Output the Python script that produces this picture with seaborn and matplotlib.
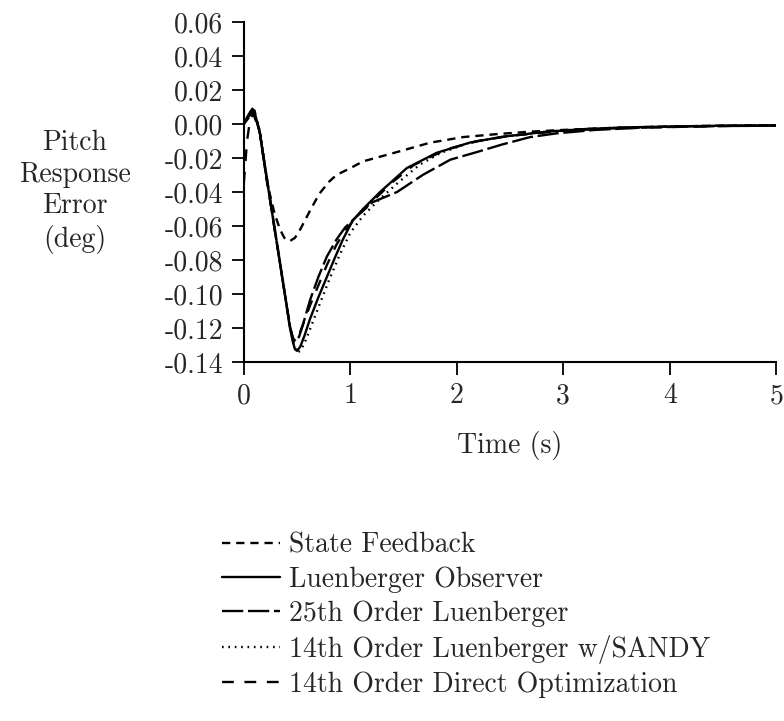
import matplotlib
matplotlib.use("Agg")
import matplotlib.pyplot as plt
import seaborn as sns
import pandas as pd

# ---- data ----
t_sf = [0, 0.05, 0.1, 0.15, 0.22, 0.29, 0.34, 0.38, 0.43, 0.48, 0.53, 0.58, 0.63, 0.71, 0.8, 0.87, 1.0, 1.12, 1.44, 1.75, 2.06, 2.37, 2.69, 3.0, 3.5, 4.0, 4.5, 5.0]
v_sf = [0, 0.004, 0.008, -0.005, -0.035, -0.053, -0.062, -0.067, -0.069, -0.067, -0.062, -0.056, -0.050, -0.041, -0.034, -0.030, -0.026, -0.022, -0.0165, -0.011, -0.0077, -0.006, -0.0045, -0.0035, -0.0022, -0.0015, -0.001, -0.0008]

t_lo = [0, 0.04, 0.08, 0.1, 0.15, 0.2, 0.25, 0.3, 0.35, 0.4, 0.43, 0.46, 0.48, 0.5, 0.53, 0.57, 0.62, 0.7, 0.78, 0.86, 0.93, 1.02, 1.12, 1.28, 1.53, 1.81, 2.12, 2.43, 2.85, 3.2, 3.6, 4.0, 4.5, 5.0]
v_lo = [0, 0.004, 0.007, 0.006, -0.005, -0.026, -0.046, -0.066, -0.086, -0.106, -0.119, -0.128, -0.1325, -0.1335, -0.131, -0.1245, -0.115, -0.102, -0.090, -0.078, -0.068, -0.057, -0.050, -0.040, -0.026, -0.017, -0.011, -0.0075, -0.0045, -0.003, -0.002, -0.0015, -0.001, -0.0008]

t_25 = [0, 0.04, 0.08, 0.1, 0.15, 0.2, 0.25, 0.3, 0.35, 0.4, 0.43, 0.46, 0.49, 0.52, 0.56, 0.62, 0.7, 0.78, 0.87, 0.95, 1.05, 1.21, 1.44, 1.68, 1.94, 2.19, 2.43, 2.69, 2.94, 3.3, 3.8, 4.5, 5.0]
v_25 = [0, 0.005, 0.009, 0.007, -0.005, -0.026, -0.046, -0.066, -0.086, -0.106, -0.118, -0.126, -0.128, -0.125, -0.117, -0.104, -0.090, -0.078, -0.068, -0.061, -0.055, -0.046, -0.040, -0.030, -0.021, -0.0165, -0.012, -0.0077, -0.0055, -0.0035, -0.002, -0.0012, -0.001]

t_sa = [0, 0.04, 0.08, 0.1, 0.15, 0.2, 0.25, 0.3, 0.35, 0.4, 0.44, 0.47, 0.5, 0.53, 0.57, 0.62, 0.7, 0.8, 0.9, 1.0, 1.12, 1.28, 1.44, 1.65, 1.85, 2.12, 2.43, 2.85, 3.2, 3.6, 4.0, 4.5, 5.0]
v_sa = [0, 0.005, 0.009, 0.007, -0.004, -0.025, -0.045, -0.065, -0.085, -0.105, -0.121, -0.130, -0.1345, -0.1335, -0.129, -0.121, -0.108, -0.092, -0.077, -0.064, -0.054, -0.044, -0.035, -0.024, -0.017, -0.011, -0.0075, -0.0045, -0.003, -0.002, -0.0015, -0.001, -0.0008]

t_do = [0, 0.03, 0.06, 0.09, 0.15, 0.2, 0.25, 0.3, 0.35, 0.4, 0.44, 0.47, 0.5, 0.55, 0.62, 0.7, 0.78, 0.87, 0.95, 1.05, 1.2, 1.4, 1.6, 1.9, 2.2, 2.5, 3.0, 3.5, 4.0, 4.5, 5.0]
v_do = [-0.035, -0.01, 0.003, 0.006, -0.005, -0.026, -0.046, -0.066, -0.086, -0.106, -0.121, -0.128, -0.127, -0.119, -0.107, -0.095, -0.083, -0.071, -0.063, -0.055, -0.046, -0.034, -0.024, -0.015, -0.010, -0.007, -0.004, -0.0025, -0.0018, -0.0012, -0.001]

labels = ["State Feedback", "Luenberger Observer", "25th Order Luenberger",
          "14th Order Luenberger w/SANDY", "14th Order Direct Optimization"]
x_ticks = [0, 1, 2, 3, 4, 5]
x_ticklabels = ["0", "1", "2", "3", "4", "5"]
y_ticks = [0.06, 0.04, 0.02, 0.00, -0.02, -0.04, -0.06, -0.08, -0.10, -0.12, -0.14]
y_ticklabels = ["0.06", "0.04", "0.02", "0.00", "-0.02", "-0.04", "-0.06", "-0.08", "-0.10", "-0.12", "-0.14"]

# ---- style ----
sns.set_theme(style="ticks")
plt.rcParams["font.family"] = ["cmr10", "DejaVu Serif"]
plt.rcParams["axes.unicode_minus"] = False
plt.rcParams["mathtext.fontset"] = "cm"
plt.rcParams["axes.formatter.use_mathtext"] = True

FS = 20
fig = plt.figure(figsize=(7.84, 7.21), dpi=100)
fig.patch.set_facecolor("white")
ax = fig.add_axes([0.311, 0.498, 0.679, 0.4715])
ax.set_facecolor("white")

series = [
    (t_sf, v_sf, (0, (3.5, 2.5))),
    (t_lo, v_lo, "-"),
    (t_25, v_25, (0, (9, 2))),
    (t_sa, v_sa, (0, (0.7, 2.0))),
    (t_do, v_do, (0, (5, 4.5))),
]
for (t, v, ls), lab in zip(series, labels):
    df = pd.DataFrame({"t": t, "v": v})
    sns.lineplot(data=df, x="t", y="v", ax=ax, color="black", linewidth=1.7,
                 linestyle=ls, label=lab, estimator=None, sort=True)

ax.set_xlim(0, 5)
ax.set_ylim(-0.14, 0.06)
ax.set_xticks(x_ticks)
ax.set_xticklabels(x_ticklabels, fontsize=FS)
ax.set_yticks(y_ticks)
ax.set_yticklabels(y_ticklabels, fontsize=FS)
ax.tick_params(direction="out", length=9, width=1.3, color="black", pad=6)

for s in ["top", "right"]:
    ax.spines[s].set_visible(False)
for s in ["left", "bottom"]:
    ax.spines[s].set_linewidth(1.5)
    ax.spines[s].set_color("black")

ax.set_xlabel("Time (s)", fontsize=FS)
ax.xaxis.set_label_coords(0.5, -0.247)
ax.xaxis.label.set_va("center")
ax.set_ylabel("Pitch\nResponse\nError\n(deg)", fontsize=FS, rotation=0,
              ha="center", va="center", linespacing=1.25)
ax.yaxis.set_label_coords(-0.318, 0.5)

handles, labs = ax.get_legend_handles_labels()
ax.get_legend().remove()
fig.legend(handles, labs, loc="upper left", bbox_to_anchor=(0.283, 0.262),
           frameon=False, fontsize=FS, handlelength=2.1, handletextpad=0.3,
           labelspacing=0.28, borderpad=0, borderaxespad=0)

fig.savefig("out.png", dpi=100, facecolor="white")
